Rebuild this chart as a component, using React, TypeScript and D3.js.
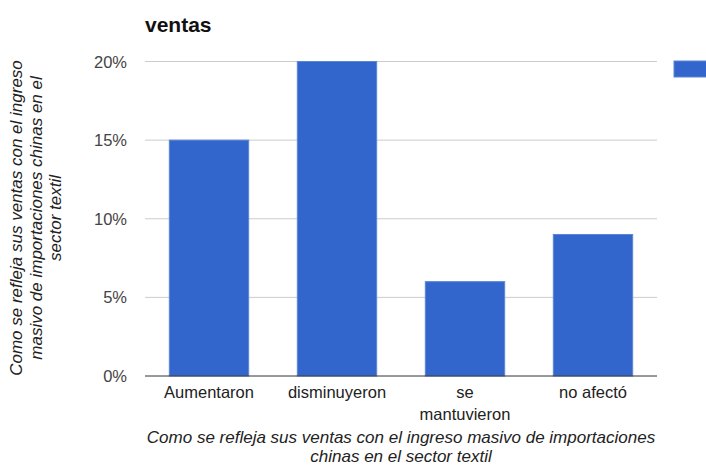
import React from "react";
import * as d3 from "d3";

const categories = ["Aumentaron", "disminuyeron", "se mantuvieron", "no afectó"];
const categoryLines = [["Aumentaron"], ["disminuyeron"], ["se", "mantuvieron"], ["no afectó"]];
const values = [15, 20, 6, 9];
const yTicks = [0, 5, 10, 15, 20];
const title = "ventas";
const xTitle = ["Como se refleja sus ventas con el ingreso masivo de importaciones", "chinas en el sector textil"];
const yTitle = ["Como se refleja sus ventas con el ingreso", "masivo de importaciones chinas en el", "sector textil"];

const W = 706, H = 466;
const left = 145, right = 657, top = 61.5, bottom = 376;
const font = "Arial, 'Liberation Sans', sans-serif";
const fs = 16.5;
const tfs = 17;

export default function App() {
  const x = d3.scaleBand<string>().domain(categories).range([left, right]).paddingInner(0.38).paddingOuter(0.19);
  const y = d3.scaleLinear().domain([0, 20]).range([bottom, top]);
  return (
    <svg width={W} height={H} style={{ position: "absolute", left: 0, top: 0 }} fontFamily={font}>
      <rect width={W} height={H} fill="#fff" />
      <text x={145} y={32} fontSize={21} fontWeight="bold" fill="#111">{title}</text>
      {yTicks.map((t) => (
        <g key={t}>
          {t !== 0 && <line x1={left} x2={right} y1={y(t)} y2={y(t)} stroke="#ccc" strokeWidth={1} />}
          <text x={127} y={y(t) + 6} fontSize={fs} fill="#444" textAnchor="end">{t}%</text>
        </g>
      ))}
      {categories.map((c, i) => (
        <rect key={c} x={x(c)} y={y(values[i])} width={x.bandwidth()} height={y(0) - y(values[i])}
          fill="#3366cc" stroke="#5c85d6" strokeWidth={1} />
      ))}
      <line x1={left} x2={right} y1={y(0)} y2={y(0)} stroke="#333" strokeWidth={1} />
      {categories.map((c, i) => (
        <text key={c} x={(x(c) as number) + x.bandwidth() / 2} y={398} fontSize={fs} fill="#222" textAnchor="middle">
          {categoryLines[i].map((l, j) => (
            <tspan key={j} x={(x(c) as number) + x.bandwidth() / 2} dy={j === 0 ? 0 : 22}>{l}</tspan>
          ))}
        </text>
      ))}
      <text x={401} y={443} fontSize={tfs} fill="#222" fontStyle="italic" textAnchor="middle">
        {xTitle.map((l, j) => (
          <tspan key={j} x={401} dy={j === 0 ? 0 : 18.5}>{l}</tspan>
        ))}
      </text>
      <g transform={`translate(0,218) rotate(-90)`}>
        <text x={0} y={22} fontSize={tfs} fill="#222" fontStyle="italic" textAnchor="middle">
          {yTitle.map((l, j) => (
            <tspan key={j} x={0} dy={j === 0 ? 0 : 19.5}>{l}</tspan>
          ))}
        </text>
      </g>
      <rect x={674} y={61} width={40} height={16} fill="#3366cc" stroke="#5c85d6" strokeWidth={1} />
    </svg>
  );
}
